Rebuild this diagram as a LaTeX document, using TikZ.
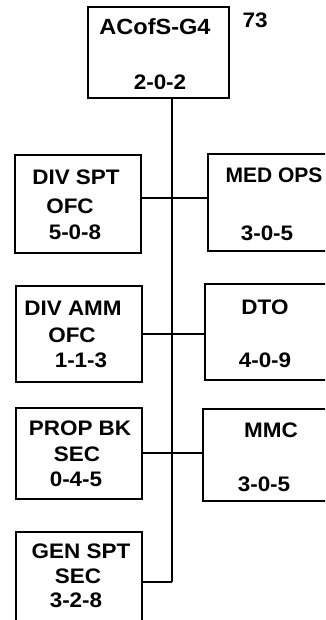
\documentclass[tikz,border=0pt]{standalone}
\usepackage{fontspec}
\setmainfont{Liberation Sans}[FakeStretch=1.07]
\newfontfamily\plainsans{Liberation Sans}
\begin{document}
\begin{tikzpicture}[x=1pt,y=-1pt,
  box/.style={draw=black,line width=1.7pt,rectangle,inner sep=0pt,anchor=north west},
  lab/.style={anchor=base,inner sep=0pt,font=\fontsize{21}{24}\selectfont\bfseries},
  wire/.style={draw=black,line width=1.6pt}]
\useasboundingbox (0,0) rectangle (325,620);
\clip (0,0) rectangle (325,620);
% boxes
\node[box,minimum width=141,minimum height=91] (g4) at (87,6) {};
\node[box,minimum width=126,minimum height=98] (divspt) at (14,154) {};
\node[box,minimum width=140,minimum height=97] (medops) at (207,153) {};
\node[box,minimum width=126,minimum height=96] (divamm) at (15,285) {};
\node[box,minimum width=140,minimum height=96] (dto) at (204,283) {};
\node[box,minimum width=126,minimum height=91] (propbk) at (15,407) {};
\node[box,minimum width=140,minimum height=92] (mmc) at (202,408) {};
\node[box,minimum width=126,minimum height=104] (genspt) at (15,531) {};
% texts
\node[lab,font=\fontsize{22}{24}\selectfont\bfseries] (t1) at (155,35) {ACofS-G4};
\node[lab] (t2) at (160,90) {2-0-2};
\node[lab] (t73) at (255,28) {73};
\node[lab] (t3) at (76,185) {DIV SPT};
\node[lab] (t4) at (70,213) {OFC};
\node[lab] (t5) at (75,239) {5-0-8};
\node[lab,font=\fontsize{21}{24}\plainsans\bfseries] (t6) at (274,183) {MED OPS};
\node[lab] (t7) at (267,240) {3-0-5};
\node[lab] (t8) at (73,315) {DIV AMM};
\node[lab] (t9) at (72,342) {OFC};
\node[lab] (t10) at (81,367) {1-1-3};
\node[lab] (t11) at (265,314) {DTO};
\node[lab] (t12) at (265,367) {4-0-9};
\node[lab] (t13) at (80,435) {PROP BK};
\node[lab] (t14) at (77,461) {SEC};
\node[lab] (t15) at (76,486) {0-4-5};
\node[lab] (t16) at (271,437) {MMC};
\node[lab] (t17) at (264,491) {3-0-5};
\node[lab] (t18) at (81,558) {GEN SPT};
\node[lab] (t19) at (78,583) {SEC};
\node[lab] (t20) at (76,607) {3-2-8};
% connectors
\coordinate (spine) at (172,0);
\coordinate (r1) at (0,198);
\coordinate (r2) at (0,334);
\coordinate (r3) at (0,453);
\coordinate (r4) at (0,582);
\draw[wire] (g4.south -| spine) -- (spine |- r4);
\draw[wire] (divspt.east |- r1) -- (medops.west |- r1);
\draw[wire] (divamm.east |- r2) -- (dto.west |- r2);
\draw[wire] (propbk.east |- r3) -- (mmc.west |- r3);
\draw[wire] (genspt.east |- r4) -- (spine |- r4);
\end{tikzpicture}
\end{document}
